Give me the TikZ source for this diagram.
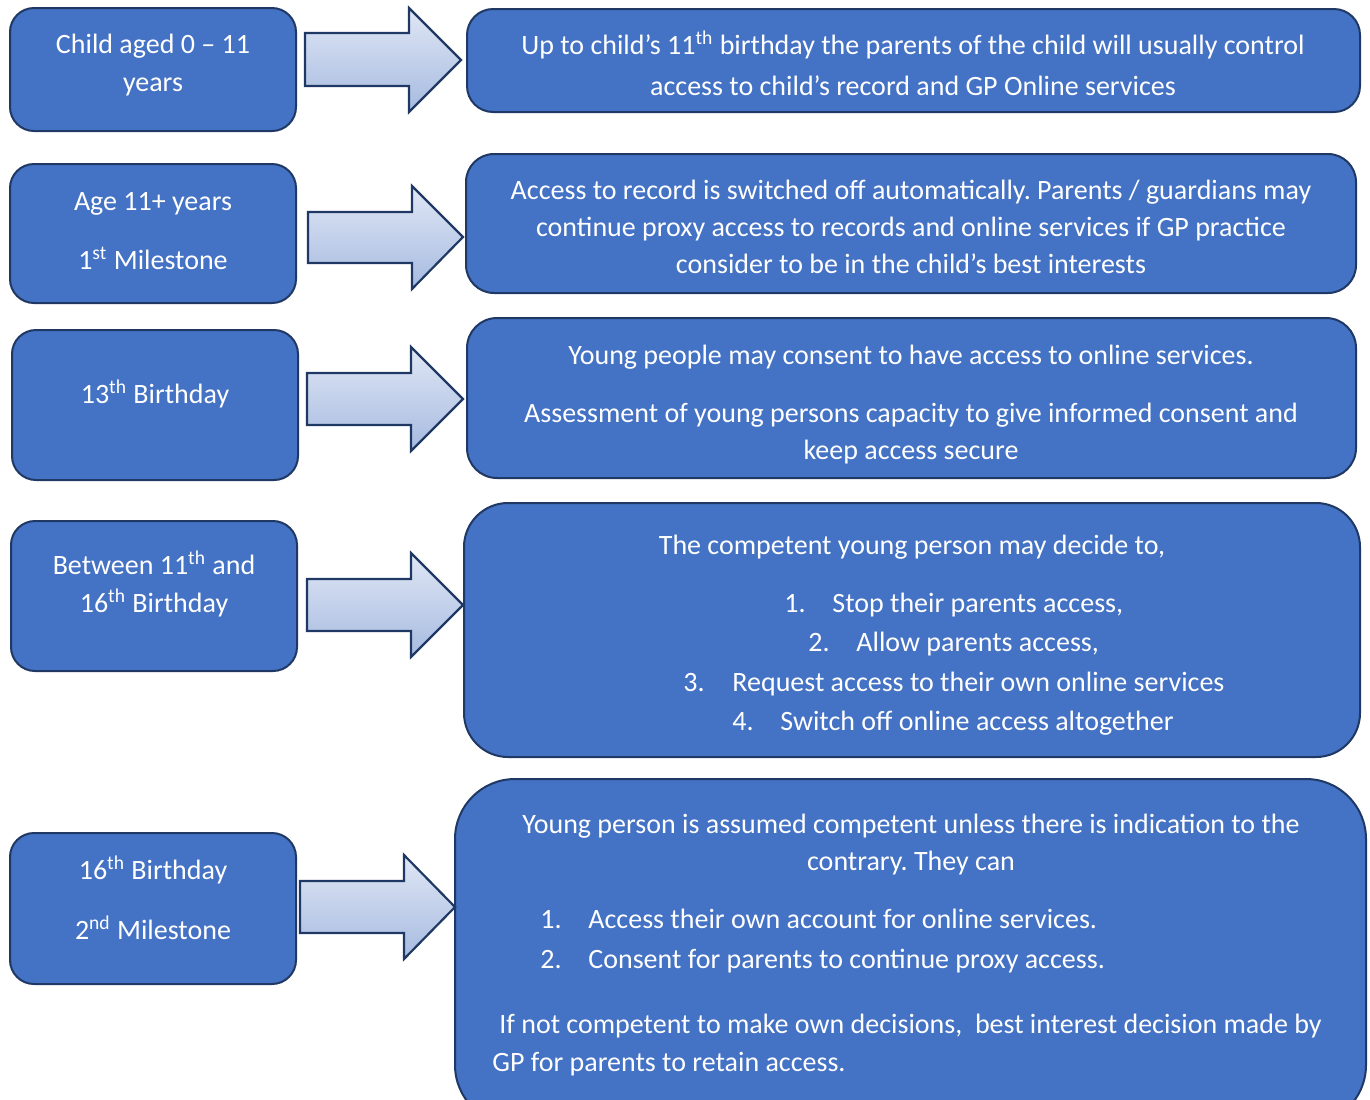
\documentclass[tikz,border=0pt]{standalone}
\usepackage{fontspec}
\setmainfont{Carlito}
\frenchspacing
\definecolor{boxblue}{HTML}{4472C4}
\definecolor{navy}{HTML}{1F3864}
\definecolor{arrtop}{HTML}{E0E7F5}
\definecolor{arrbot}{HTML}{A6BAE0}
\begin{document}
\begin{tikzpicture}[x=0.5pt,y=-0.5pt,
  lbox/.style={draw=navy, line width=1pt, fill=boxblue},
  txt/.style={text=white, font=\fontsize{14pt}{17pt}\selectfont, inner sep=0pt, anchor=mid},
  txtw/.style={txt, anchor=mid west},
  arr/.style={draw=navy, line width=1.1pt, top color=arrtop, bottom color=arrbot, line join=miter}]
\useasboundingbox (0,0) rectangle (1370,1099);
\newcommand{\sps}[1]{\textsuperscript{#1}}
% left boxes
\draw[lbox, rounded corners=12pt] (10,8) rectangle (296,131);
\draw[lbox, rounded corners=12pt] (10,164) rectangle (296,303);
\draw[lbox, rounded corners=12pt] (12,330) rectangle (298,480);
\draw[lbox, rounded corners=12pt] (11,521) rectangle (297,671);
\draw[lbox, rounded corners=12pt] (10,833) rectangle (296,984);
% right boxes
\draw[lbox, rounded corners=13pt] (467,9) rectangle (1360,112);
\draw[lbox, rounded corners=14pt] (466,154) rectangle (1356,293);
\draw[lbox, rounded corners=15pt] (467,318) rectangle (1356,478);
\draw[lbox, rounded corners=22pt] (464,503) rectangle (1360,757);
\draw[lbox, rounded corners=30pt] (455,779) rectangle (1366,1125);
% arrows
\draw[arr] (305,33) -- (409,33) -- (409,8) -- (461,60) -- (409,112) -- (409,86) -- (305,86) -- cycle;
\draw[arr] (308,212) -- (412,212) -- (412,186) -- (463,237) -- (412,289) -- (412,263) -- (308,263) -- cycle;
\draw[arr] (307,373) -- (411,373) -- (411,347) -- (463,399) -- (411,451) -- (411,425) -- (307,425) -- cycle;
\draw[arr] (307,579) -- (411,579) -- (411,553) -- (463,605) -- (411,657) -- (411,631) -- (307,631) -- cycle;
\draw[arr] (300,881) -- (404,881) -- (404,855) -- (455,907) -- (404,959) -- (404,933) -- (300,933) -- cycle;
% left texts
\node[txt] (l1a) at (153,49) {Child aged 0 -- 11};
\node[txt] (l1b) at (153,87) {years};
\node[txt] (l2a) at (153,206) {Age 11+ years};
\node[txt] (l2b) at (153,265) {1\sps{st} Milestone};
\node[txt] (l3a) at (155,399) {13\sps{th} Birthday};
\node[txt] (l4a) at (154,570) {Between 11\sps{th} and};
\node[txt] (l4b) at (154,608) {16\sps{th} Birthday};
\node[txt] (l5a) at (153,875) {16\sps{th} Birthday};
\node[txt] (l5b) at (153,935) {2\sps{nd} Milestone};
% right texts
\node[txt] (r1a) at (913,50) {Up to child’s 11\sps{th} birthday the parents of the child will usually control};
\node[txt] (r1b) at (913,91) {access to child’s record and GP Online services};
\node[txt] (r2a) at (911,195) {Access to record is switched off automatically. Parents / guardians may};
\node[txt] (r2b) at (911,232) {continue proxy access to records and online services if GP practice};
\node[txt] (r2c) at (911,269) {consider to be in the child’s best interests};
\node[txt] (r3a) at (911,360) {Young people may consent to have access to online services.};
\node[txt] (r3b) at (911,418) {Assessment of young persons capacity to give informed consent and};
\node[txt] (r3c) at (911,455) {keep access secure};
\node[txt] (r4a) at (912,550) {The competent young person may decide to,};
\node[txtw] (r4n1) at (784,608) {1.};
\node[txtw] (r4t1) at (832,608) {Stop their parents access,};
\node[txtw] (r4n2) at (808,647) {2.};
\node[txtw] (r4t2) at (856,647) {Allow parents access,};
\node[txtw] (r4n3) at (683,687) {3.};
\node[txtw] (r4t3) at (732,687) {Request access to their own online services};
\node[txtw] (r4n4) at (732,726) {4.};
\node[txtw] (r4t4) at (780,726) {Switch off online access altogether};
\node[txt] (r5a) at (911,829) {Young person is assumed competent unless there is indication to the};
\node[txt] (r5b) at (911,866) {contrary. They can};
\node[txtw] (r5n1) at (540,924) {1.};
\node[txtw] (r5t1) at (588,924) {Access their own account for online services.};
\node[txtw] (r5n2) at (540,964) {2.};
\node[txtw] (r5t2) at (588,964) {Consent for parents to continue proxy access.};
\node[txtw] (r5c) at (499,1029) {If not competent to make own decisions,\ \ best interest decision made by};
\node[txtw] (r5d) at (492,1067) {GP for parents to retain access.};
\end{tikzpicture}
\end{document}
